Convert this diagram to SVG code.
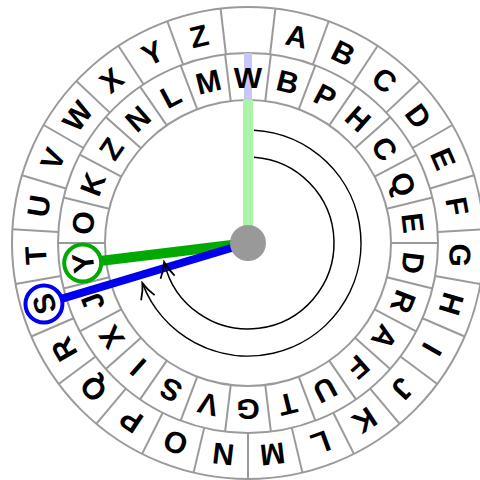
<svg xmlns="http://www.w3.org/2000/svg" xmlns:xlink="http://www.w3.org/1999/xlink" width="480" height="480" viewBox="0 0 480 480">
<style>
.ring{fill:none;stroke:#9a9a9a;stroke-width:2}
.sep{stroke:#9a9a9a;stroke-width:2}
.lt{font-family:"Liberation Sans",Arial,sans-serif;font-weight:bold;font-size:30px;text-anchor:middle;fill:#000}
.arc{fill:none;stroke:#000;stroke-width:1.5}
</style>
<defs>
<line id="os" class="sep" x1="248" y1="53" x2="248" y2="7"/>
<line id="is" class="sep" x1="248" y1="100" x2="248" y2="53"/>
<marker id="ah" markerUnits="userSpaceOnUse" markerWidth="20" markerHeight="20" viewBox="-16 -9 18 18" refX="0" refY="0" orient="auto">
<path d="M-14,-6.5 Q-7,-2 0,0 Q-7,2 -14,6.5" fill="none" stroke="#000" stroke-width="1.6"/>
</marker>
</defs>
<rect width="480" height="480" fill="#fff"/>
<g id="rings">
<circle class="ring" cx="248" cy="243" r="236"/>
<circle class="ring" cx="248" cy="243" r="190"/>
<circle class="ring" cx="248" cy="243" r="143"/>
</g>
<g id="outer-separators">
<use xlink:href="#os" transform="rotate(6.667 248 243)"/><use xlink:href="#os" transform="rotate(20 248 243)"/><use xlink:href="#os" transform="rotate(33.333 248 243)"/><use xlink:href="#os" transform="rotate(46.667 248 243)"/><use xlink:href="#os" transform="rotate(60 248 243)"/><use xlink:href="#os" transform="rotate(73.333 248 243)"/><use xlink:href="#os" transform="rotate(86.667 248 243)"/><use xlink:href="#os" transform="rotate(100 248 243)"/><use xlink:href="#os" transform="rotate(113.333 248 243)"/><use xlink:href="#os" transform="rotate(126.667 248 243)"/><use xlink:href="#os" transform="rotate(140 248 243)"/><use xlink:href="#os" transform="rotate(153.333 248 243)"/><use xlink:href="#os" transform="rotate(166.667 248 243)"/><use xlink:href="#os" transform="rotate(180 248 243)"/><use xlink:href="#os" transform="rotate(193.333 248 243)"/><use xlink:href="#os" transform="rotate(206.667 248 243)"/><use xlink:href="#os" transform="rotate(220 248 243)"/><use xlink:href="#os" transform="rotate(233.333 248 243)"/><use xlink:href="#os" transform="rotate(246.667 248 243)"/><use xlink:href="#os" transform="rotate(260 248 243)"/><use xlink:href="#os" transform="rotate(273.333 248 243)"/><use xlink:href="#os" transform="rotate(286.667 248 243)"/><use xlink:href="#os" transform="rotate(300 248 243)"/><use xlink:href="#os" transform="rotate(313.333 248 243)"/><use xlink:href="#os" transform="rotate(326.667 248 243)"/><use xlink:href="#os" transform="rotate(340 248 243)"/><use xlink:href="#os" transform="rotate(353.333 248 243)"/>
</g>
<g id="inner-separators">
<use xlink:href="#is" transform="rotate(6.923 248 243)"/><use xlink:href="#is" transform="rotate(20.769 248 243)"/><use xlink:href="#is" transform="rotate(34.615 248 243)"/><use xlink:href="#is" transform="rotate(48.462 248 243)"/><use xlink:href="#is" transform="rotate(62.308 248 243)"/><use xlink:href="#is" transform="rotate(76.154 248 243)"/><use xlink:href="#is" transform="rotate(90 248 243)"/><use xlink:href="#is" transform="rotate(103.846 248 243)"/><use xlink:href="#is" transform="rotate(117.692 248 243)"/><use xlink:href="#is" transform="rotate(131.538 248 243)"/><use xlink:href="#is" transform="rotate(145.385 248 243)"/><use xlink:href="#is" transform="rotate(159.231 248 243)"/><use xlink:href="#is" transform="rotate(173.077 248 243)"/><use xlink:href="#is" transform="rotate(186.923 248 243)"/><use xlink:href="#is" transform="rotate(200.769 248 243)"/><use xlink:href="#is" transform="rotate(214.615 248 243)"/><use xlink:href="#is" transform="rotate(228.462 248 243)"/><use xlink:href="#is" transform="rotate(242.308 248 243)"/><use xlink:href="#is" transform="rotate(256.154 248 243)"/><use xlink:href="#is" transform="rotate(270 248 243)"/><use xlink:href="#is" transform="rotate(283.846 248 243)"/><use xlink:href="#is" transform="rotate(297.692 248 243)"/><use xlink:href="#is" transform="rotate(311.538 248 243)"/><use xlink:href="#is" transform="rotate(325.385 248 243)"/><use xlink:href="#is" transform="rotate(339.231 248 243)"/><use xlink:href="#is" transform="rotate(353.077 248 243)"/>
</g>
<g id="spokes">
<line x1="248" y1="243" x2="248" y2="100" stroke="#aaf5aa" stroke-width="10"/>
<line x1="248" y1="100" x2="248" y2="53" stroke="#c8c8f8" stroke-width="8"/>
</g>
<g id="outer-letters">
<text class="lt" x="248" y="41" transform="rotate(13.333 248 243)">A</text>
<text class="lt" x="248" y="41" transform="rotate(26.667 248 243)">B</text>
<text class="lt" x="248" y="41" transform="rotate(40 248 243)">C</text>
<text class="lt" x="248" y="41" transform="rotate(53.333 248 243)">D</text>
<text class="lt" x="248" y="41" transform="rotate(66.667 248 243)">E</text>
<text class="lt" x="248" y="41" transform="rotate(80 248 243)">F</text>
<text class="lt" x="248" y="41" transform="rotate(93.333 248 243)">G</text>
<text class="lt" x="248" y="41" transform="rotate(106.667 248 243)">H</text>
<text class="lt" x="248" y="41" transform="rotate(120 248 243)">I</text>
<text class="lt" x="248" y="41" transform="rotate(133.333 248 243)">J</text>
<text class="lt" x="248" y="41" transform="rotate(146.667 248 243)">K</text>
<text class="lt" x="248" y="41" transform="rotate(160 248 243)">L</text>
<text class="lt" x="248" y="41" transform="rotate(173.333 248 243)">M</text>
<text class="lt" x="248" y="41" transform="rotate(186.667 248 243)">N</text>
<text class="lt" x="248" y="41" transform="rotate(200 248 243)">O</text>
<text class="lt" x="248" y="41" transform="rotate(213.333 248 243)">P</text>
<text class="lt" x="248" y="41" transform="rotate(226.667 248 243)">Q</text>
<text class="lt" x="248" y="41" transform="rotate(240 248 243)">R</text>
<text class="lt" x="248" y="41" transform="rotate(253.333 248 243)">S</text>
<text class="lt" x="248" y="41" transform="rotate(266.667 248 243)">T</text>
<text class="lt" x="248" y="41" transform="rotate(280 248 243)">U</text>
<text class="lt" x="248" y="41" transform="rotate(293.333 248 243)">V</text>
<text class="lt" x="248" y="41" transform="rotate(306.667 248 243)">W</text>
<text class="lt" x="248" y="41" transform="rotate(320 248 243)">X</text>
<text class="lt" x="248" y="41" transform="rotate(333.333 248 243)">Y</text>
<text class="lt" x="248" y="41" transform="rotate(346.667 248 243)">Z</text>
</g>
<g id="inner-letters">
<text class="lt" x="248" y="87.5">W</text>
<text class="lt" x="248" y="87.5" transform="rotate(13.846 248 243)">B</text>
<text class="lt" x="248" y="87.5" transform="rotate(27.692 248 243)">P</text>
<text class="lt" x="248" y="87.5" transform="rotate(41.538 248 243)">H</text>
<text class="lt" x="248" y="87.5" transform="rotate(55.385 248 243)">C</text>
<text class="lt" x="248" y="87.5" transform="rotate(69.231 248 243)">Q</text>
<text class="lt" x="248" y="87.5" transform="rotate(83.077 248 243)">E</text>
<text class="lt" x="248" y="87.5" transform="rotate(96.923 248 243)">D</text>
<text class="lt" x="248" y="87.5" transform="rotate(110.769 248 243)">R</text>
<text class="lt" x="248" y="87.5" transform="rotate(124.615 248 243)">A</text>
<text class="lt" x="248" y="87.5" transform="rotate(138.462 248 243)">F</text>
<text class="lt" x="248" y="87.5" transform="rotate(152.308 248 243)">U</text>
<text class="lt" x="248" y="87.5" transform="rotate(166.154 248 243)">T</text>
<text class="lt" x="248" y="87.5" transform="rotate(180 248 243)">G</text>
<text class="lt" x="248" y="87.5" transform="rotate(193.846 248 243)">V</text>
<text class="lt" x="248" y="87.5" transform="rotate(207.692 248 243)">S</text>
<text class="lt" x="248" y="87.5" transform="rotate(221.538 248 243)">I</text>
<text class="lt" x="248" y="87.5" transform="rotate(235.385 248 243)">X</text>
<text class="lt" x="248" y="87.5" transform="rotate(249.231 248 243)">J</text>
<text class="lt" x="248" y="87.5" transform="rotate(263.077 248 243)">Y</text>
<text class="lt" x="248" y="87.5" transform="rotate(276.923 248 243)">O</text>
<text class="lt" x="248" y="87.5" transform="rotate(290.769 248 243)">K</text>
<text class="lt" x="248" y="87.5" transform="rotate(304.615 248 243)">Z</text>
<text class="lt" x="248" y="87.5" transform="rotate(318.462 248 243)">N</text>
<text class="lt" x="248" y="87.5" transform="rotate(332.308 248 243)">L</text>
<text class="lt" x="248" y="87.5" transform="rotate(346.154 248 243)">M</text>
</g>
<g id="connectors">
<line x1="248" y1="243" x2="99.9" y2="261" stroke="#00aa00" stroke-width="10"/>
<line x1="248" y1="243" x2="60.5" y2="299.2" stroke="#0000ee" stroke-width="8"/>
<path class="arc" d="M253.91,130.15 A113,113 0 1 1 142.36,283.13" marker-end="url(#ah)"/>
<path class="arc" d="M254,157.21 A86,86 0 1 1 164.14,262.05" marker-end="url(#ah)"/>
</g>
<g id="marks">
<circle cx="82.7" cy="263.1" r="18.5" fill="none" stroke="#00aa00" stroke-width="4"/>
<circle cx="43.95" cy="304.1" r="18.5" fill="none" stroke="#0000ee" stroke-width="4"/>
</g>
<g id="hub">
<circle cx="248" cy="243" r="18" fill="#999"/>
</g>
</svg>
